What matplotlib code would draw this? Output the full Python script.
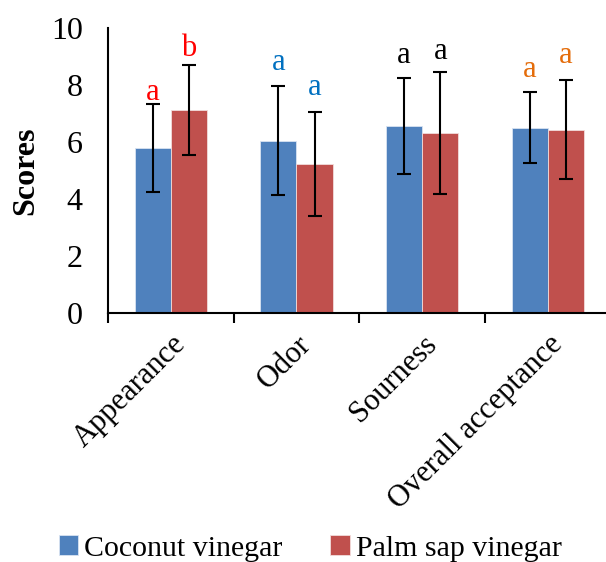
import numpy as np
import matplotlib.pyplot as plt

categories = ['Appearance', 'Odor', 'Sourness', 'Overall acceptance']
coconut = [5.80, 6.05, 6.57, 6.50]
coconut_sd = [1.55, 1.92, 1.69, 1.24]
palm = [7.12, 5.22, 6.32, 6.43]
palm_sd = [1.58, 1.82, 2.14, 1.74]
coconut_letters = ['a', 'a', 'a', 'a']
palm_letters = ['b', 'a', 'a', 'a']
coconut_letter_y = [7.75, 8.78, 9.05, 8.55]
palm_letter_y = [9.30, 7.92, 9.17, 9.05]
letter_colors = ['#FF0000', '#0070C0', 'black', '#E46C0A']

plt.rcParams['font.family'] = ['Liberation Serif', 'DejaVu Serif']

fig = plt.figure(figsize=(6.06, 5.62), dpi=100)
ax = fig.add_axes([0.178, 0.443, 0.83, 0.507])

x = np.arange(len(categories))
w = 0.287
ax.bar(x - w/2, coconut, w, color='#4F81BD', edgecolor='#D9E4F2', linewidth=0.6,
       label='Coconut vinegar', zorder=2)
ax.bar(x + w/2, palm, w, color='#C0504D', edgecolor='#F2DCDB', linewidth=0.6,
       label='Palm sap vinegar', zorder=2)
ax.errorbar(x - w/2, coconut, yerr=coconut_sd, fmt='none', ecolor='black',
            elinewidth=1.5, capsize=5, capthick=1.5, zorder=3)
ax.errorbar(x + w/2, palm, yerr=palm_sd, fmt='none', ecolor='black',
            elinewidth=1.5, capsize=5, capthick=1.5, zorder=3)

for i in range(len(categories)):
    ax.text(x[i] - w/2, coconut_letter_y[i], coconut_letters[i], color=letter_colors[i],
            ha='center', va='center', fontsize=22)
    ax.text(x[i] + w/2, palm_letter_y[i], palm_letters[i], color=letter_colors[i],
            ha='center', va='center', fontsize=22)

ax.set_ylim(0, 10)
ax.set_xlim(-0.5, 3.5)
ax.set_yticks([0, 2, 4, 6, 8, 10])
ax.tick_params(axis='y', length=0, labelsize=23, pad=18)
ax.set_xticks(x - 0.5, minor=False)
ax.set_xticklabels([])
ax.tick_params(axis='x', length=7, width=1.5, direction='out')
ax.set_xticks(x, minor=True)
ax.set_xticklabels(categories, minor=True, rotation=45, ha='right',
                   rotation_mode='anchor', fontsize=22)
ax.tick_params(axis='x', which='minor', length=0, pad=12)

ax.spines['top'].set_visible(False)
ax.spines['right'].set_visible(False)
ax.spines['left'].set_linewidth(1.5)
ax.spines['bottom'].set_linewidth(1.5)
ax.set_ylabel('Scores', fontsize=23, fontweight='bold', labelpad=8)

fig.legend(loc='center', bbox_to_anchor=(0.512, 0.024), ncol=2, frameon=False,
           fontsize=21.5, handlelength=0.65, handleheight=0.65, handletextpad=0.2,
           columnspacing=1.6)

plt.savefig('out.png', dpi=100)
plt.close(fig)
